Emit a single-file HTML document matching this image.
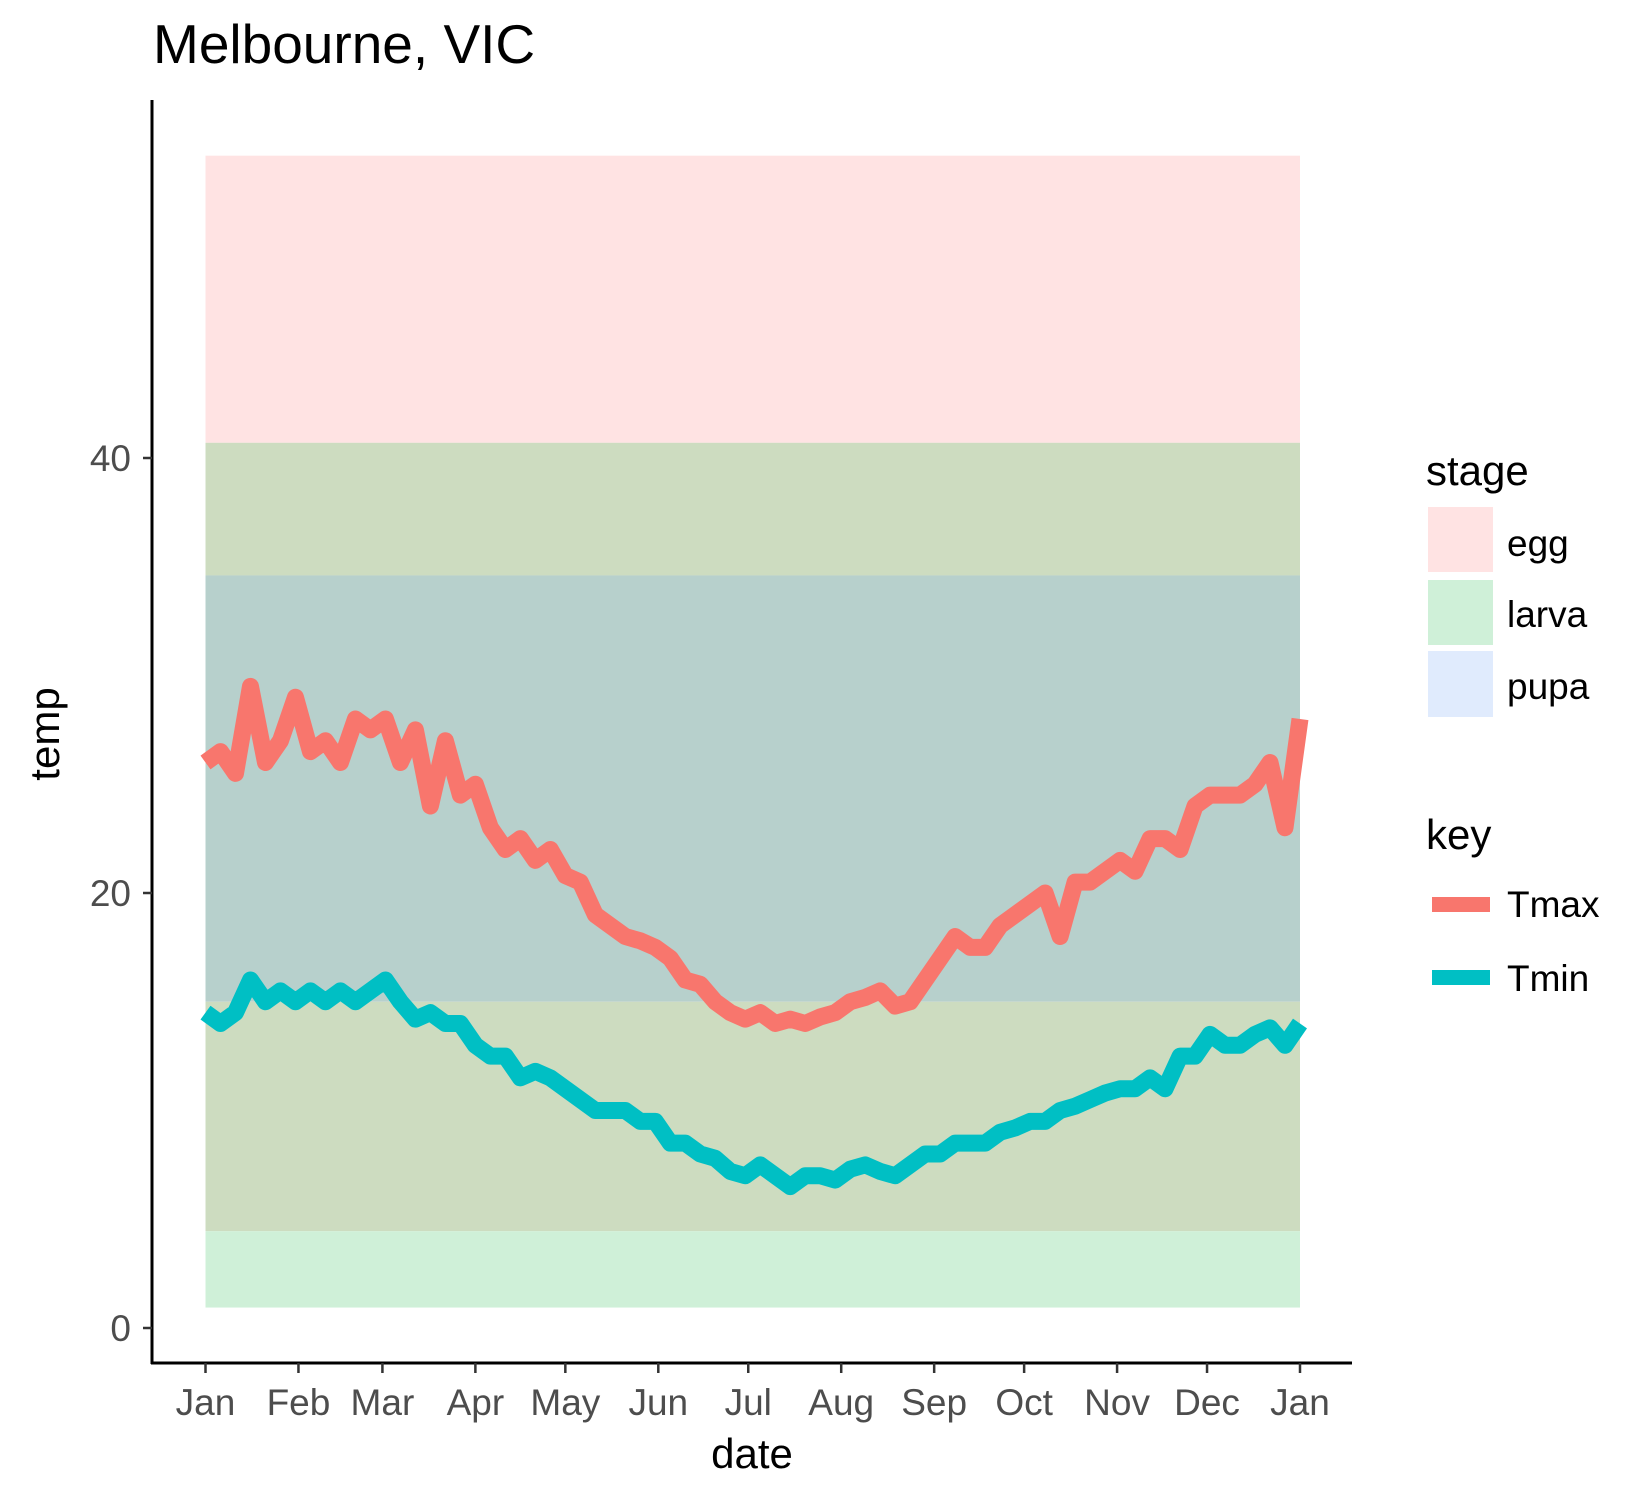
<!DOCTYPE html>
<html><head><meta charset="utf-8"><style>
html,body{margin:0;padding:0;background:#fff;}
svg{display:block;font-family:"Liberation Sans",Arial,sans-serif;}
</style></head><body>
<svg id="chart" width="1643" height="1493" viewBox="0 0 1643 1493" xmlns="http://www.w3.org/2000/svg">
<text x="153" y="63" font-size="55" fill="#000">Melbourne, VIC</text>
<g id="bands"></g>
<g id="lines"></g>
<g id="axes"></g>
<text x="752" y="1468" font-size="42" text-anchor="middle" fill="#000">date</text>
<text transform="translate(59,734) rotate(-90)" font-size="42" text-anchor="middle" fill="#000">temp</text>
<g>
<text x="1426" y="485" font-size="42" fill="#000">stage</text>
<rect x="1428" y="507" width="65" height="65" fill="#ffe3e3"/>
<text x="1507" y="556" font-size="37" fill="#000">egg</text>
<rect x="1428" y="580" width="65" height="65" fill="#cff0d8"/>
<text x="1507" y="627" font-size="37" fill="#000">larva</text>
<rect x="1428" y="651" width="65" height="66" fill="#e0ebfd"/>
<text x="1507" y="699" font-size="37" fill="#000">pupa</text>
</g>
<g>
<text x="1426" y="849" font-size="42" fill="#000">key</text>
<rect x="1432" y="897" width="58" height="15" fill="#f8766d"/>
<text x="1507" y="917" font-size="37" fill="#000">Tmax</text>
<rect x="1432" y="970" width="58" height="15" fill="#00bfc4"/>
<text x="1507" y="991" font-size="37" fill="#000">Tmin</text>
</g>
</svg>
<script>
const days=[0,5,10,15,20,25,30,35,40,45,50,55,60,65,70,75,80,85,90,95,100,105,110,115,120,125,130,135,140,145,150,155,160,165,170,175,180,185,190,195,200,205,210,215,220,225,230,235,240,245,250,255,260,265,270,275,280,285,290,295,300,305,310,315,320,325,330,335,340,345,350,355,360,365];
const tmax=[26,26.5,25.5,29.5,26,27,29,26.5,27,26,28,27.5,28,26,27.5,24,27,24.5,25,23,22,22.5,21.5,22,20.8,20.5,19,18.5,18,17.8,17.5,17,16,15.8,15,14.5,14.2,14.5,14,14.2,14,14.3,14.5,15,15.2,15.5,14.8,15,16,17,18,17.5,17.5,18.5,19,19.5,20,18,20.5,20.5,21,21.5,21,22.5,22.5,22,24,24.5,24.5,24.5,25,26,23,28];
const tmin=[14.5,14,14.5,16,15,15.5,15,15.5,15,15.5,15,15.5,16,15,14.2,14.5,14,14,13,12.5,12.5,11.5,11.8,11.5,11,10.5,10,10,10,9.5,9.5,8.5,8.5,8,7.8,7.2,7,7.5,7,6.5,7,7,6.8,7.3,7.5,7.2,7,7.5,8,8,8.5,8.5,8.5,9,9.2,9.5,9.5,10,10.2,10.5,10.8,11,11,11.5,11,12.5,12.5,13.5,13,13,13.5,13.8,13,14];
const bandLo=[40.7,34.6,15.0,4.45,0.94];
const bandHi=[53.9,40.7,34.6,15.0,4.45];
const bandNames=['egg-band','egg-larva-overlap','pupa-larva-overlap','larva-pupa-overlap','larva-band'];
const bandColors=['#ffe3e3','#cddcc0','#b7d0cc','#cddcc0','#cff0d8'];
const monthLabels=['Jan','Feb','Mar','Apr','May','Jun','Jul','Aug','Sep','Oct','Nov','Dec','Jan'];
const monthDays=[0,31,59,90,120,151,181,212,243,273,304,334,365];
const yTicks=[0,20,40];

const NS='http://www.w3.org/2000/svg';
const X=d=>205.5+d*(1300-205.5)/365;
const Y=v=>1328-21.75*v;
function mk(tag,attrs,parent){const e=document.createElementNS(NS,tag);for(const k in attrs)e.setAttribute(k,attrs[k]);parent.appendChild(e);return e;}
const gb=document.getElementById('bands'),gl=document.getElementById('lines'),ga=document.getElementById('axes');
bandLo.forEach((lo,i)=>{
  const r=mk('rect',{x:X(0),y:Y(bandHi[i]),width:X(365)-X(0),height:Y(lo)-Y(bandHi[i]),fill:bandColors[i]},gb);
  
  
});
function line(vals,color,name){
  const p=mk('polyline',{points:days.map((d,i)=>X(d)+','+Y(vals[i])).join(' '),fill:'none',stroke:color,'stroke-width':17,'stroke-linejoin':'round'},gl);
  
  
}
line(tmax,'#f8766d','tmax-line');
line(tmin,'#00bfc4','tmin-line');
const yl=mk('line',{x1:152,y1:100,x2:152,y2:1364,stroke:'#000','stroke-width':3},ga);


const xl=mk('line',{x1:151,y1:1363,x2:1352,y2:1363,stroke:'#000','stroke-width':3},ga);


yTicks.forEach(v=>{
  const t=mk('line',{x1:143,y1:Y(v),x2:152,y2:Y(v),stroke:'#333','stroke-width':2.5},ga);
  
  
  const l=mk('text',{x:131,y:Y(v)+13,'font-size':37,'text-anchor':'end',fill:'#4d4d4d'},ga);
  l.textContent=v;
  
  
});
monthDays.forEach((d,i)=>{
  const t=mk('line',{x1:X(d),y1:1363,x2:X(d),y2:1373,stroke:'#333','stroke-width':2.5},ga);
  
  
  const l=mk('text',{x:X(d),y:1415,'font-size':37,'text-anchor':'middle',fill:'#4d4d4d'},ga);
  l.textContent=monthLabels[i];
  
  
});
</script>
</body></html>
